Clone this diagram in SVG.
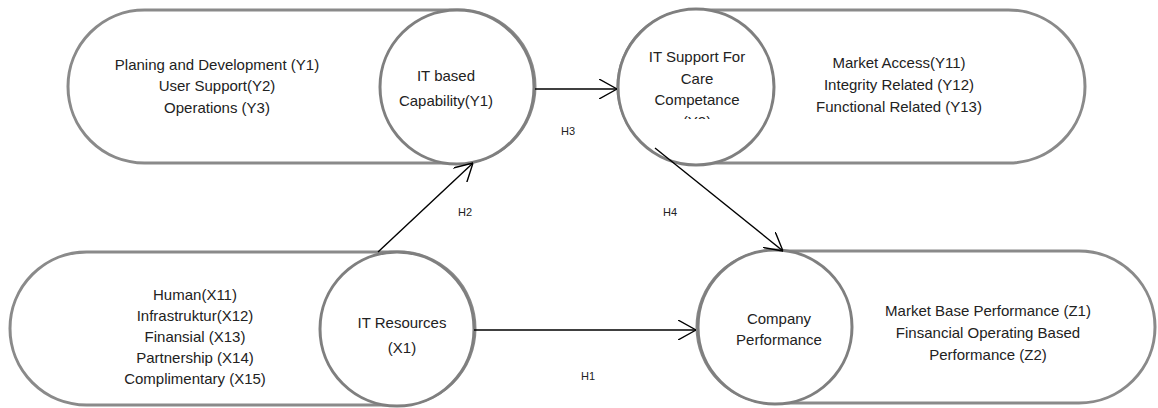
<svg xmlns="http://www.w3.org/2000/svg" width="1158" height="408" viewBox="0 0 1158 408">
<style>
.cap{fill:#fff;stroke:#8a8a8a;stroke-width:3}
.cir{fill:#fff;stroke:#7f7f7f;stroke-width:3}
text{font-family:"Liberation Sans",Arial,sans-serif;font-size:15px;fill:#222;text-anchor:middle}
.h{font-size:11px}
.arr{stroke:#000;stroke-width:1.4;fill:none;marker-end:url(#ah)}
</style>
<defs>
<marker id="ah" viewBox="0 0 18 20" refX="18" refY="10" markerWidth="18" markerHeight="20" markerUnits="userSpaceOnUse" orient="auto">
<path d="M0,0 L18,10 L0,20" fill="none" stroke="#000" stroke-width="1.4"/>
</marker>
<clipPath id="clipY2"><rect x="617" y="0" width="160" height="119"/></clipPath>
</defs>

<g id="node-it-capability">
<rect class="cap" x="68" y="10" width="467" height="153" rx="76.5"/>
<circle class="cir" cx="457" cy="87" r="77"/>
<text x="217" y="70">Planing and Development (Y1)</text>
<text x="217" y="91">User Support(Y2)</text>
<text x="217" y="113">Operations (Y3)</text>
<text x="446" y="81">IT based</text>
<text x="446" y="106">Capability(Y1)</text>
</g>

<g id="node-it-support">
<rect class="cap" x="618" y="10" width="467" height="153" rx="76.5"/>
<circle class="cir" cx="696" cy="87" r="78"/>
<text x="697" y="62">IT Support For</text>
<text x="697" y="84">Care</text>
<text x="697" y="105">Competance</text>
<text x="697" y="127" clip-path="url(#clipY2)">(Y2)</text>
<text x="899" y="68">Market Access(Y11)</text>
<text x="899" y="90">Integrity Related (Y12)</text>
<text x="899" y="112">Functional Related (Y13)</text>
</g>

<g id="node-it-resources">
<rect class="cap" x="10" y="252" width="465" height="153" rx="76.5"/>
<circle class="cir" cx="397" cy="329" r="77"/>
<text x="195" y="300">Human(X11)</text>
<text x="195" y="321">Infrastruktur(X12)</text>
<text x="195" y="342">Finansial (X13)</text>
<text x="195" y="363">Partnership (X14)</text>
<text x="195" y="384">Complimentary (X15)</text>
<text x="402" y="328">IT Resources</text>
<text x="402" y="353">(X1)</text>
</g>

<g id="node-company-performance">
<rect class="cap" x="697" y="251" width="458" height="152" rx="76"/>
<circle class="cir" cx="775" cy="327" r="77"/>
<text x="779" y="324">Company</text>
<text x="779" y="345">Performance</text>
<text x="988" y="316">Market Base Performance (Z1)</text>
<text x="988" y="338">Finsancial Operating Based</text>
<text x="988" y="360">Performance (Z2)</text>
</g>

<g id="connectors">
<line class="arr" x1="535" y1="89" x2="617" y2="89"/>
<line class="arr" x1="378" y1="252" x2="473" y2="163"/>
<line class="arr" x1="655" y1="148" x2="783" y2="251"/>
<line class="arr" x1="474" y1="330" x2="696" y2="330"/>
<text class="h" x="568" y="135">H3</text>
<text class="h" x="465" y="216">H2</text>
<text class="h" x="670" y="216">H4</text>
<text class="h" x="588" y="380">H1</text>
</g>
</svg>
